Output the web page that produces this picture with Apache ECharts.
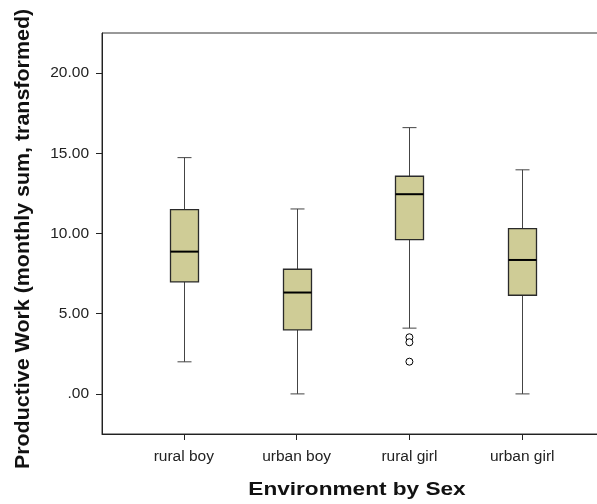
<!DOCTYPE html>
<html>
<head>
<meta charset="utf-8">
<script src="https://cdn.jsdelivr.net/npm/echarts@6/dist/echarts.min.js"></script>
<style>html,body{margin:0;padding:0;background:#fff}#c{width:597px;height:504px}</style>
</head>
<body>
<div id="c"></div>
<script>
var categories = ['rural boy', 'urban boy', 'rural girl', 'urban girl'];
var whiskerLow = [2.0, 0.0, 4.1, 0.0];
var q1 = [6.98, 3.99, 9.62, 6.15];
var median = [8.87, 6.32, 12.45, 8.35];
var q3 = [11.49, 7.77, 13.57, 10.31];
var whiskerHigh = [14.73, 11.53, 16.6, 13.97];
var outlierCategory = [3, 3, 3];
var outlierValue = [3.53, 3.22, 2.01];
var yTicks = [0, 5, 10, 15, 20];

var boxData = categories.map(function (c, i) {
  return [i + 1, whiskerLow[i], q1[i], median[i], q3[i], whiskerHigh[i]];
});
var outlierData = outlierValue.map(function (v, i) { return [outlierCategory[i], v]; });

var chart = echarts.init(document.getElementById('c'), null, {renderer: 'canvas'});
var font = '"Liberation Sans", Arial, sans-serif';
chart.setOption({
  animation: false,
  grid: {left: 102, top: 33, width: 502, height: 401, show: true, borderColor: '#333', borderWidth: 1,
    backgroundColor: 'transparent', containLabel: false, outerBoundsMode: 'none'},
  xAxis: {
    type: 'value', min: 0.275, max: 4.725,
    splitLine: {show: false},
    axisLine: {show: true, onZero: false, lineStyle: {color: '#222', width: 1}},
    axisTick: {show: true, length: 6, lineStyle: {color: '#222'}, customValues: [1, 2, 3, 4]},
    axisLabel: {customValues: [1, 2, 3, 4], margin: 15, fontSize: 15.5, color: '#222', fontFamily: font,
      formatter: function (v) { return categories[Math.round(v) - 1] || ''; }}
  },
  yAxis: {
    type: 'value', min: -2.5, max: 22.5,
    splitLine: {show: false},
    axisLine: {show: true, onZero: false, lineStyle: {color: '#222', width: 1}},
    axisTick: {show: true, length: 6, lineStyle: {color: '#222'}, customValues: yTicks},
    axisLabel: {customValues: yTicks, margin: 13, fontSize: 15.5, color: '#222', fontFamily: font,
      formatter: function (v) { return v === 0 ? '.00' : v.toFixed(2); }}
  },
  graphic: [
    {type: 'text', x: 357, y: 490, scaleX: 1.19, style: {text: 'Environment by Sex', font: 'bold 19px ' + font, fill: '#111', textAlign: 'center', textVerticalAlign: 'middle'}},
    {type: 'text', x: 23, y: 239, rotation: Math.PI / 2, scaleX: 1.02, style: {text: 'Productive Work (monthly sum, transformed)', font: 'bold 21px ' + font, fill: '#111', textAlign: 'center', textVerticalAlign: 'middle'}}
  ],
  series: [
    {
      type: 'custom',
      data: boxData,
      renderItem: function (params, api) {
        var x = api.value(0);
        var pMin = api.coord([x, api.value(1)]);
        var pQ1 = api.coord([x, api.value(2)]);
        var pMed = api.coord([x, api.value(3)]);
        var pQ3 = api.coord([x, api.value(4)]);
        var pMax = api.coord([x, api.value(5)]);
        var cx = Math.round(pMin[0]) + 0.5;
        var hw = 14, cw = 7;
        var wStyle = {stroke: '#444', lineWidth: 1};
        return {
          type: 'group',
          children: [
            {type: 'line', shape: {x1: cx, y1: pMax[1], x2: cx, y2: pQ3[1]}, style: wStyle},
            {type: 'line', shape: {x1: cx, y1: pQ1[1], x2: cx, y2: pMin[1]}, style: wStyle},
            {type: 'line', shape: {x1: cx - cw, y1: pMax[1], x2: cx + cw, y2: pMax[1]}, style: wStyle},
            {type: 'line', shape: {x1: cx - cw, y1: pMin[1], x2: cx + cw, y2: pMin[1]}, style: wStyle},
            {type: 'rect', shape: {x: cx - hw, y: pQ3[1], width: 2 * hw, height: pQ1[1] - pQ3[1]}, style: {fill: '#CFCC96', stroke: '#2a2a2a', lineWidth: 1.3}},
            {type: 'line', shape: {x1: cx - hw, y1: pMed[1], x2: cx + hw, y2: pMed[1]}, style: {stroke: '#000', lineWidth: 2}}
          ]
        };
      }
    },
    {
      type: 'scatter',
      data: outlierData,
      symbol: 'circle',
      symbolSize: 7,
      itemStyle: {color: '#fff', borderColor: '#000', borderWidth: 1, opacity: 1}
    }
  ]
});
</script>
</body>
</html>
